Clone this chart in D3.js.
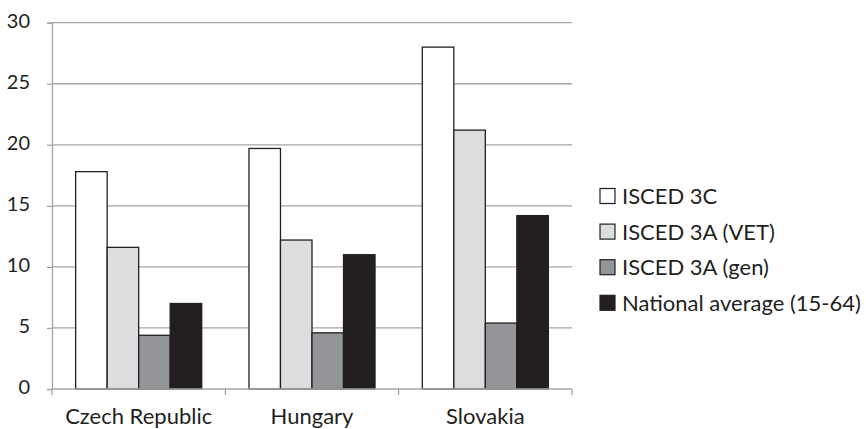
<!DOCTYPE html>
<html><head><meta charset="utf-8">
<script src="https://cdn.jsdelivr.net/npm/d3@7"></script>
<style>body{margin:0;background:#fff}svg{display:block}text{font-family:Lato,"Open Sans",sans-serif;fill:#231f20}</style>
</head><body>
<svg id="c" width="866" height="429"></svg>
<script>
const categories = ["Czech Republic", "Hungary", "Slovakia"];
const seriesNames = ["ISCED 3C", "ISCED 3A (VET)", "ISCED 3A (gen)", "National average (15-64)"];
const isced3C = [17.8, 19.7, 28.0];
const isced3AVet = [11.6, 12.2, 21.2];
const isced3AGen = [4.4, 4.6, 5.4];
const nationalAvg = [7.0, 11.0, 14.2];
const yTicks = [0, 5, 10, 15, 20, 25, 30];
const colors = ["#ffffff", "#dcdddf", "#939598", "#231f20"];

const seriesValues = [isced3C, isced3AVet, isced3AGen, nationalAvg];
const svg = d3.select("#c");
const pLeft = 52, pRight = 572, pTop = 22.7, pBottom = 389;

const x = d3.scaleBand().domain(categories).range([pLeft, pRight]).paddingInner(0).paddingOuter(0);
const bw = x.bandwidth() / 5.5;
const xs = d3.scaleBand().domain(d3.range(4)).range([0.75 * bw, x.bandwidth() - 0.75 * bw]).padding(0);
const y = d3.scaleLinear().domain([0, 30]).range([pBottom, pTop]);

// gridlines
svg.append("g").selectAll("line").data(yTicks.filter(d => d > 0)).join("line")
  .attr("x1", pLeft).attr("x2", pRight).attr("y1", d => y(d)).attr("y2", d => y(d))
  .attr("stroke", "#a6a6a6").attr("stroke-width", 1.3);

// y axis
const yAxis = svg.append("g").attr("transform", `translate(${pLeft},0)`)
  .call(d3.axisLeft(y).tickValues(yTicks).tickSize(5).tickPadding(17));
yAxis.select(".domain").attr("stroke", "#a6a6a6").attr("stroke-width", 1.3);
yAxis.selectAll(".tick line").attr("stroke", "#a6a6a6").attr("stroke-width", 1.3);
yAxis.selectAll("text").attr("font-size", 20).attr("dy", "0.22em").style("font-family", "Lato").attr("fill", "#231f20");

// bars
const groups = svg.append("g").selectAll("g").data(categories).join("g")
  .attr("transform", d => `translate(${x(d)},0)`);
groups.selectAll("rect").data((c, i) => seriesValues.map((s, j) => ({ j, v: s[i] }))).join("rect")
  .attr("x", d => xs(d.j)).attr("width", xs.bandwidth())
  .attr("y", d => y(d.v)).attr("height", d => y(0) - y(d.v))
  .attr("fill", d => colors[d.j]).attr("stroke", "#231f20").attr("stroke-width", 1.3);

// x axis
const xAxis = svg.append("g").attr("transform", `translate(0,${pBottom})`)
  .call(d3.axisBottom(x).tickSize(0).tickPadding(0));
xAxis.select(".domain").remove();
xAxis.append("line").attr("x1", pLeft).attr("x2", pRight).attr("stroke", "#a6a6a6").attr("stroke-width", 1.3);
xAxis.selectAll(".sep").data(d3.range(4)).join("line").attr("class", "sep")
  .attr("x1", i => pLeft + i * x.step()).attr("x2", i => pLeft + i * x.step())
  .attr("y1", 0).attr("y2", 6).attr("stroke", "#a6a6a6").attr("stroke-width", 1.3);
xAxis.selectAll(".tick text").attr("font-size", 22).attr("y", 34.5).attr("dy", null)
  .style("font-family", "Lato").attr("fill", "#231f20");

// legend
const leg = svg.append("g").attr("transform", "translate(600,188.5)");
const li = leg.selectAll("g").data(seriesNames).join("g").attr("transform", (d, i) => `translate(0,${i * 35.6})`);
li.append("rect").attr("x", 0).attr("y", 0).attr("width", 15).attr("height", 15)
  .attr("fill", (d, i) => colors[i]).attr("stroke", "#231f20").attr("stroke-width", 1.2);
li.append("text").attr("x", 22).attr("y", 15.5).attr("font-size", 22).text(d => d);
</script>
</body></html>
